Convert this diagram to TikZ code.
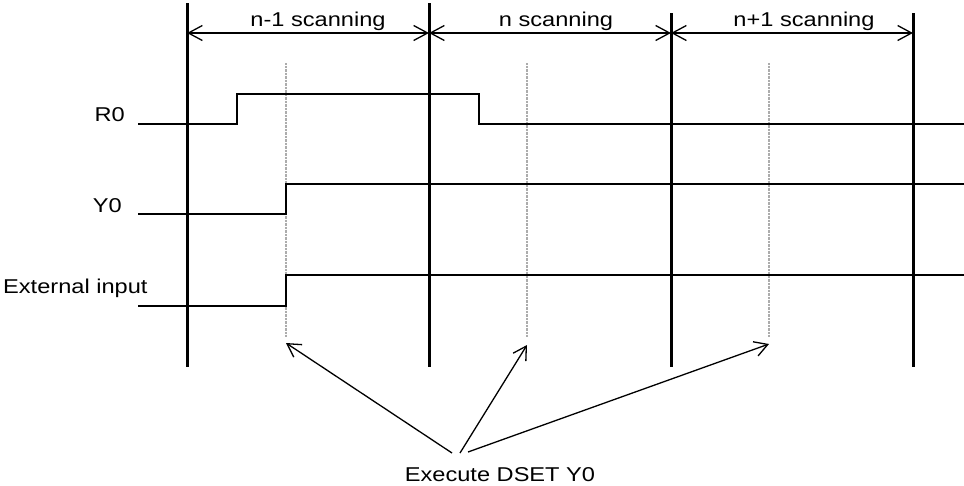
\documentclass[tikz,border=0pt]{standalone}
\usepackage{fontspec}
\setmainfont{Liberation Sans}
\usetikzlibrary{arrows.meta}
\newcommand{\wtxt}[1]{\scalebox{1.18}[1]{#1}}
\begin{document}
\begin{tikzpicture}[x=1pt,y=-1pt,
  frame/.style={line width=3pt},
  sig/.style={line width=2pt},
  probe/.style={line width=1.1pt, draw=gray!65, dash pattern=on 0.8pt off 0.6pt},
  span/.style={line width=1.4pt,{Straight Barb[length=14pt,width=15pt,line width=1.3pt]}-{Straight Barb[length=14pt,width=15pt,line width=1.3pt]}},
  ptr/.style={line width=1.3pt,-{Straight Barb[length=13pt,width=15pt,line width=1.3pt]}},
  lbl/.style={inner sep=0pt, font=\fontsize{20}{24}\selectfont}]
\useasboundingbox (0,0) rectangle (964,485);

% scan boundaries
\coordinate (t1) at (187,3);   \coordinate (b1) at (187,367);
\coordinate (t2) at (429,3);   \coordinate (b2) at (429,367);
\coordinate (t3) at (671,13);  \coordinate (b3) at (671,367);
\coordinate (t4) at (913,13);  \coordinate (b4) at (913,367);
\draw[frame] (t1) -- (b1);
\draw[frame] (t2) -- (b2);
\draw[frame] (t3) -- (b3);
\draw[frame] (t4) -- (b4);

% scanning spans
\coordinate (a1) at (187,33); \coordinate (a2) at (429,33);
\coordinate (a3) at (671,33); \coordinate (a4) at (913,33);
\draw[span] (a1) -- (a2);
\draw[span] (a2) -- (a3);
\draw[span] (a3) -- (a4);
\node[lbl, anchor=base] (s1) at (318,26.5) {\wtxt{n-1 scanning}};
\node[lbl, anchor=base] (s2) at (556,26.5) {\wtxt{n scanning}};
\node[lbl, anchor=base] (s3) at (804,26.5) {\wtxt{n+1 scanning}};

% execution probes
\coordinate (p1t) at (286,63); \coordinate (p1b) at (286,337);
\coordinate (p2t) at (527,63); \coordinate (p2b) at (527,337);
\coordinate (p3t) at (769,63); \coordinate (p3b) at (769,337);
\draw[probe] (p1t) -- (p1b);
\draw[probe] (p2t) -- (p2b);
\draw[probe] (p3t) -- (p3b);

% signal labels
\node[lbl, anchor=base east] (r0) at (125,121) {\wtxt{R0}};
\node[lbl, anchor=base east] (y0) at (122,212) {\wtxt{Y0}};
\node[lbl, anchor=base west] (ext) at (3,293) {\wtxt{External input}};

% signals
\draw[sig] (138,124) -- (237,124) -- (237,94) -- (479,94) -- (479,124) -- (964,124);
\draw[sig] (138,214) -- (286,214) -- (286,184) -- (964,184);
\draw[sig] (138,306) -- (286,306) -- (286,275) -- (964,275);

% execute label and pointers
\node[lbl, anchor=base] (ex) at (500,481.7) {\wtxt{Execute DSET Y0}};
\coordinate (e1) at (452,453); \coordinate (e2) at (460,453); \coordinate (e3) at (468,452);
\coordinate (h1) at (286,343); \coordinate (h2) at (527,345); \coordinate (h3) at (769,344);
\draw[ptr] (e1) -- (h1);
\draw[ptr] (e2) -- (h2);
\draw[ptr] (e3) -- (h3);
\end{tikzpicture}
\end{document}
